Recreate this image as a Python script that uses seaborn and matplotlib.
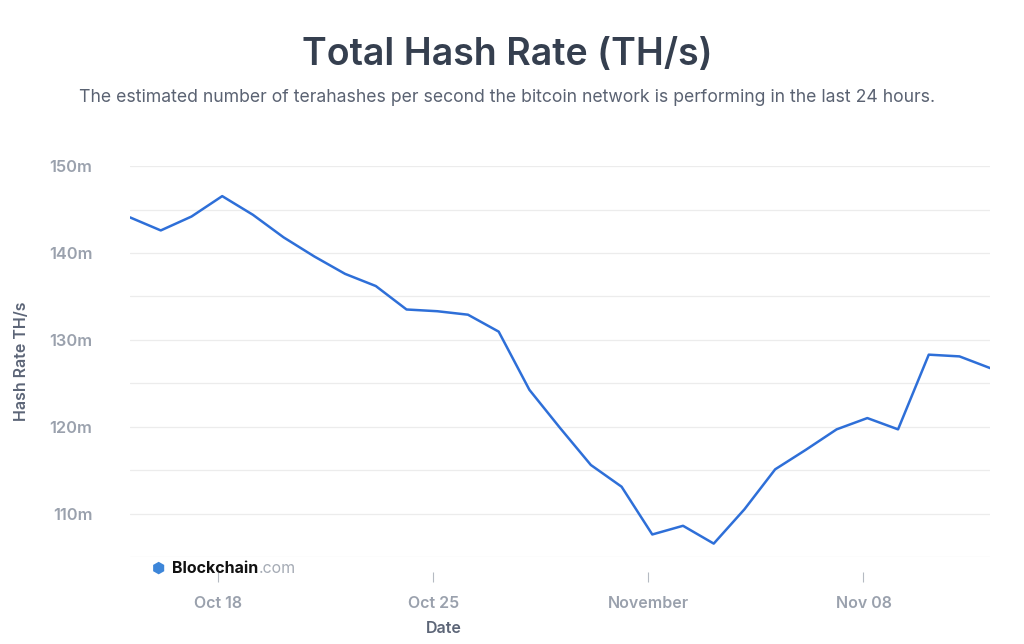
import pandas as pd
import matplotlib.pyplot as plt
import matplotlib.dates as mdates
import seaborn as sns

# daily readings (TH/s, in millions)
dates = pd.date_range("2021-10-15 03:00", periods=29, freq="D")
hash_rate = [144.1, 142.6, 144.2, 146.55, 144.4, 141.8, 139.6, 137.6, 136.2, 133.5,
             133.3, 132.9, 130.95, 124.25, 119.85, 115.6, 113.1, 107.6, 108.6, 106.55,
             110.5, 115.1, 117.35, 119.7, 121.0, 119.7, 128.3, 128.1, 126.75]

tick_dates = pd.to_datetime(["2021-10-18", "2021-10-25", "2021-11-01", "2021-11-08"])
tick_labels = ["Oct 18", "Oct 25", "November", "Nov 08"]
y_ticks = [110, 120, 130, 140, 150]

df = pd.DataFrame({"date": dates, "hash_rate": hash_rate})

sns.set_theme(style="white")
plt.rcParams["font.family"] = ["Inter", "DejaVu Sans"]

fig = plt.figure(figsize=(10.24, 6.44), dpi=100)
ax = fig.add_axes([0.127, 0.135, 0.84, 0.607])

sns.lineplot(data=df, x="date", y="hash_rate", ax=ax, color="#2e6fd8", linewidth=1.8)
ax.lines[0].set_solid_joinstyle("round")

ax.set_xlim(pd.Timestamp("2021-10-15 03:00"), pd.Timestamp("2021-11-12 03:00"))
ax.set_ylim(105, 150)

ax.set_yticks(y_ticks)
ax.set_yticklabels([f"{v}m" for v in y_ticks])
ax.set_yticks(range(105, 151, 5), minor=True)
ax.grid(True, which="both", axis="y", color="#ececec", linewidth=0.9)
ax.grid(False, axis="x")

ax.set_xticks(mdates.date2num(tick_dates))
ax.set_xticklabels(tick_labels)

for s in ["top", "right", "left"]:
    ax.spines[s].set_visible(False)
ax.spines["bottom"].set_position(("outward", 11))
ax.spines["bottom"].set_visible(False)

ax.tick_params(axis="y", which="both", length=0, pad=27, labelsize=11.8, labelcolor="#9aa1ad")
ax.tick_params(axis="x", length=7, width=0.8, color="#b5bac2", pad=10,
               labelsize=11.5, labelcolor="#9aa1ad", direction="out", bottom=True)
for lbl in ax.get_xticklabels() + ax.get_yticklabels():
    lbl.set_fontweight("semibold")

ax.set_xlabel("Date", fontsize=11.5, fontweight="semibold", color="#5c6577")
ax.xaxis.set_label_coords(0.365, -0.163)
ax.set_ylabel("Hash Rate TH/s", fontsize=11.5, fontweight="semibold", color="#5c6577")
ax.yaxis.set_label_coords(-0.117, 0.5)

fig.text(0.495, 0.915, "Total Hash Rate (TH/s)", ha="center", va="center",
         fontsize=27, fontweight="semibold", color="#353f4f")
fig.text(0.495, 0.848, "The estimated number of terahashes per second the bitcoin network is performing in the last 24 hours.",
         ha="center", va="center", fontsize=12.7, color="#5a6272")

# Blockchain.com watermark
ax.text(0.025, -0.028, "\u2b22", transform=ax.transAxes, fontsize=11, color="#3d86d9",
        ha="left", va="center", family=["DejaVu Sans"])
t = ax.text(0.049, -0.028, "Blockchain", transform=ax.transAxes, fontsize=11.5,
            fontweight="bold", color="#111111", ha="left", va="center")
fig.canvas.draw()
bb = t.get_window_extent().transformed(ax.transAxes.inverted())
ax.text(bb.x1, -0.028, ".com", transform=ax.transAxes, fontsize=11.5,
        color="#a5abb5", ha="left", va="center")

fig.savefig("out.png", dpi=100)
